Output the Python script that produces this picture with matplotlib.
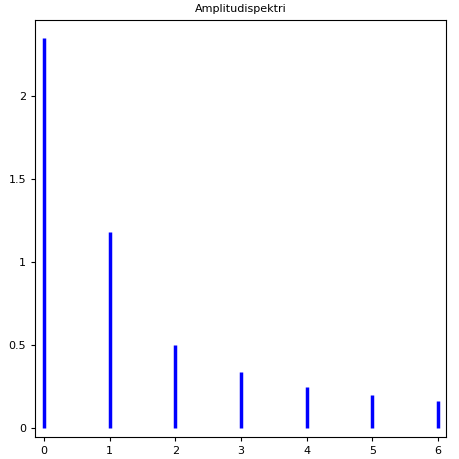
import matplotlib
matplotlib.use("Agg")
import matplotlib.pyplot as plt

freqs = [0, 1, 2, 3, 4, 5, 6]
amps = [2.35, 1.18, 0.50, 0.34, 0.245, 0.20, 0.165]
yticks = [0, 0.5, 1, 1.5, 2]
ylabels = ["0", "0.5", "1", "1.5", "2"]

fig = plt.figure(figsize=(4.59, 4.59), dpi=100)
ax = fig.add_axes([35/459, 22/459, 411/459, 417/459])
ax.vlines(freqs, 0, amps, colors="#0000ff", linewidth=2.5)
ax.set_xlim(-0.137, 6.12)
ax.set_ylim(-0.054, 2.458)
ax.set_xticks(freqs)
ax.set_yticks(yticks)
ax.set_yticklabels(ylabels)
ax.tick_params(labelsize=8, direction="out", length=3, width=0.8)
for s in ax.spines.values():
    s.set_linewidth(0.8)
ax.set_title("Amplitudispektri", fontsize=8, pad=6)
fig.savefig("out.png", dpi=100)
